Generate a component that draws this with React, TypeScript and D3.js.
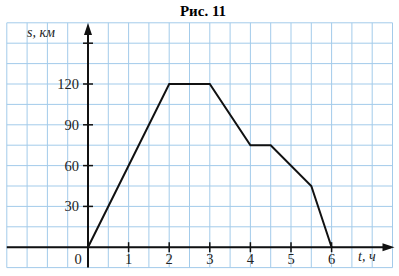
import React from "react";
import * as d3 from "d3";

const times = [0, 2, 3, 4, 4.5, 5.5, 6];
const distances = [0, 120, 120, 75, 75, 45, 0];
const xTicks = [1, 2, 3, 4, 5, 6];
const yTicks = [30, 60, 90, 120];
const title = "Рис. 11";
const yLabel = "s, км";
const xLabel = "t, ч";

export default function App() {
  const W = 399, H = 276;
  const x = d3.scaleLinear().domain([0, 1]).range([88, 128.6]);
  const y = d3.scaleLinear().domain([0, 30]).range([247.2, 206.4]);
  const xGrid = d3.range(-4, 16).map((k) => k * 0.5);
  const yGrid = d3.range(-1, 12).map((k) => k * 15);
  const line = d3.line<number>().x((_, i) => x(times[i])).y((d) => y(d));
  const gx0 = x(-2), gx1 = x(7.5), gy0 = y(165), gy1 = y(-15);
  const serif = "'Liberation Serif', 'DejaVu Serif', serif";
  const fs = 14.5;
  return (
    <svg width={W} height={H} style={{ position: "absolute", left: 0, top: 0, background: "#fff" }}>
      <text x={203} y={16} textAnchor="middle" fontFamily={serif} fontWeight="bold" fontSize={15}>{title}</text>
      <g stroke="#a3cbea" strokeWidth={1}>
        {xGrid.map((g) => (
          <line key={"vx" + g} x1={x(g)} x2={x(g)} y1={gy0} y2={gy1} />
        ))}
        {yGrid.map((g) => (
          <line key={"hy" + g} x1={gx0} x2={gx1} y1={y(g)} y2={y(g)} />
        ))}
      </g>
      <line x1={gx0} x2={391} y1={y(0)} y2={y(0)} stroke="#111" strokeWidth={2} />
      <path d={`M${x(7.5) + 2},${y(0)} L${x(7.5) - 10},${y(0) - 4} L${x(7.5) - 10},${y(0) + 4} Z`} fill="#111" />
      <line x1={x(0)} x2={x(0)} y1={gy1} y2={34} stroke="#111" strokeWidth={2} />
      <path d={`M${x(0)},${23} L${x(0) - 4},${35} L${x(0) + 4},${35} Z`} fill="#111" />
      {xTicks.map((t) => (
        <g key={"xt" + t}>
          <line x1={x(t)} x2={x(t)} y1={y(0) - 5} y2={y(0) + 5} stroke="#111" strokeWidth={1.5} />
          <text x={x(t)} y={y(0) + 17} textAnchor="middle" fontFamily={serif} fontSize={fs} fill="#222">{t}</text>
        </g>
      ))}
      {yTicks.map((t) => (
        <g key={"yt" + t}>
          <line x1={x(0) - 5} x2={x(0) + 5} y1={y(t)} y2={y(t)} stroke="#111" strokeWidth={1.5} />
          <text x={x(0) - 9} y={y(t) + 5} textAnchor="end" fontFamily={serif} fontSize={fs} fill="#222">{t}</text>
        </g>
      ))}
      <line x1={x(0) - 5} x2={x(0) + 5} y1={y(150)} y2={y(150)} stroke="#111" strokeWidth={1.5} />
      <text x={x(0) - 10} y={y(0) + 17} textAnchor="middle" fontFamily={serif} fontSize={fs} fill="#222">0</text>
      <text x={27} y={37} fontFamily={serif} fontStyle="italic" fontSize={14} fill="#222">{yLabel}</text>
      <text x={358} y={261} fontFamily={serif} fontStyle="italic" fontSize={14} fill="#222">{xLabel}</text>
      <path d={line(distances) || ""} fill="none" stroke="#111" strokeWidth={2} strokeLinejoin="miter" />
    </svg>
  );
}
